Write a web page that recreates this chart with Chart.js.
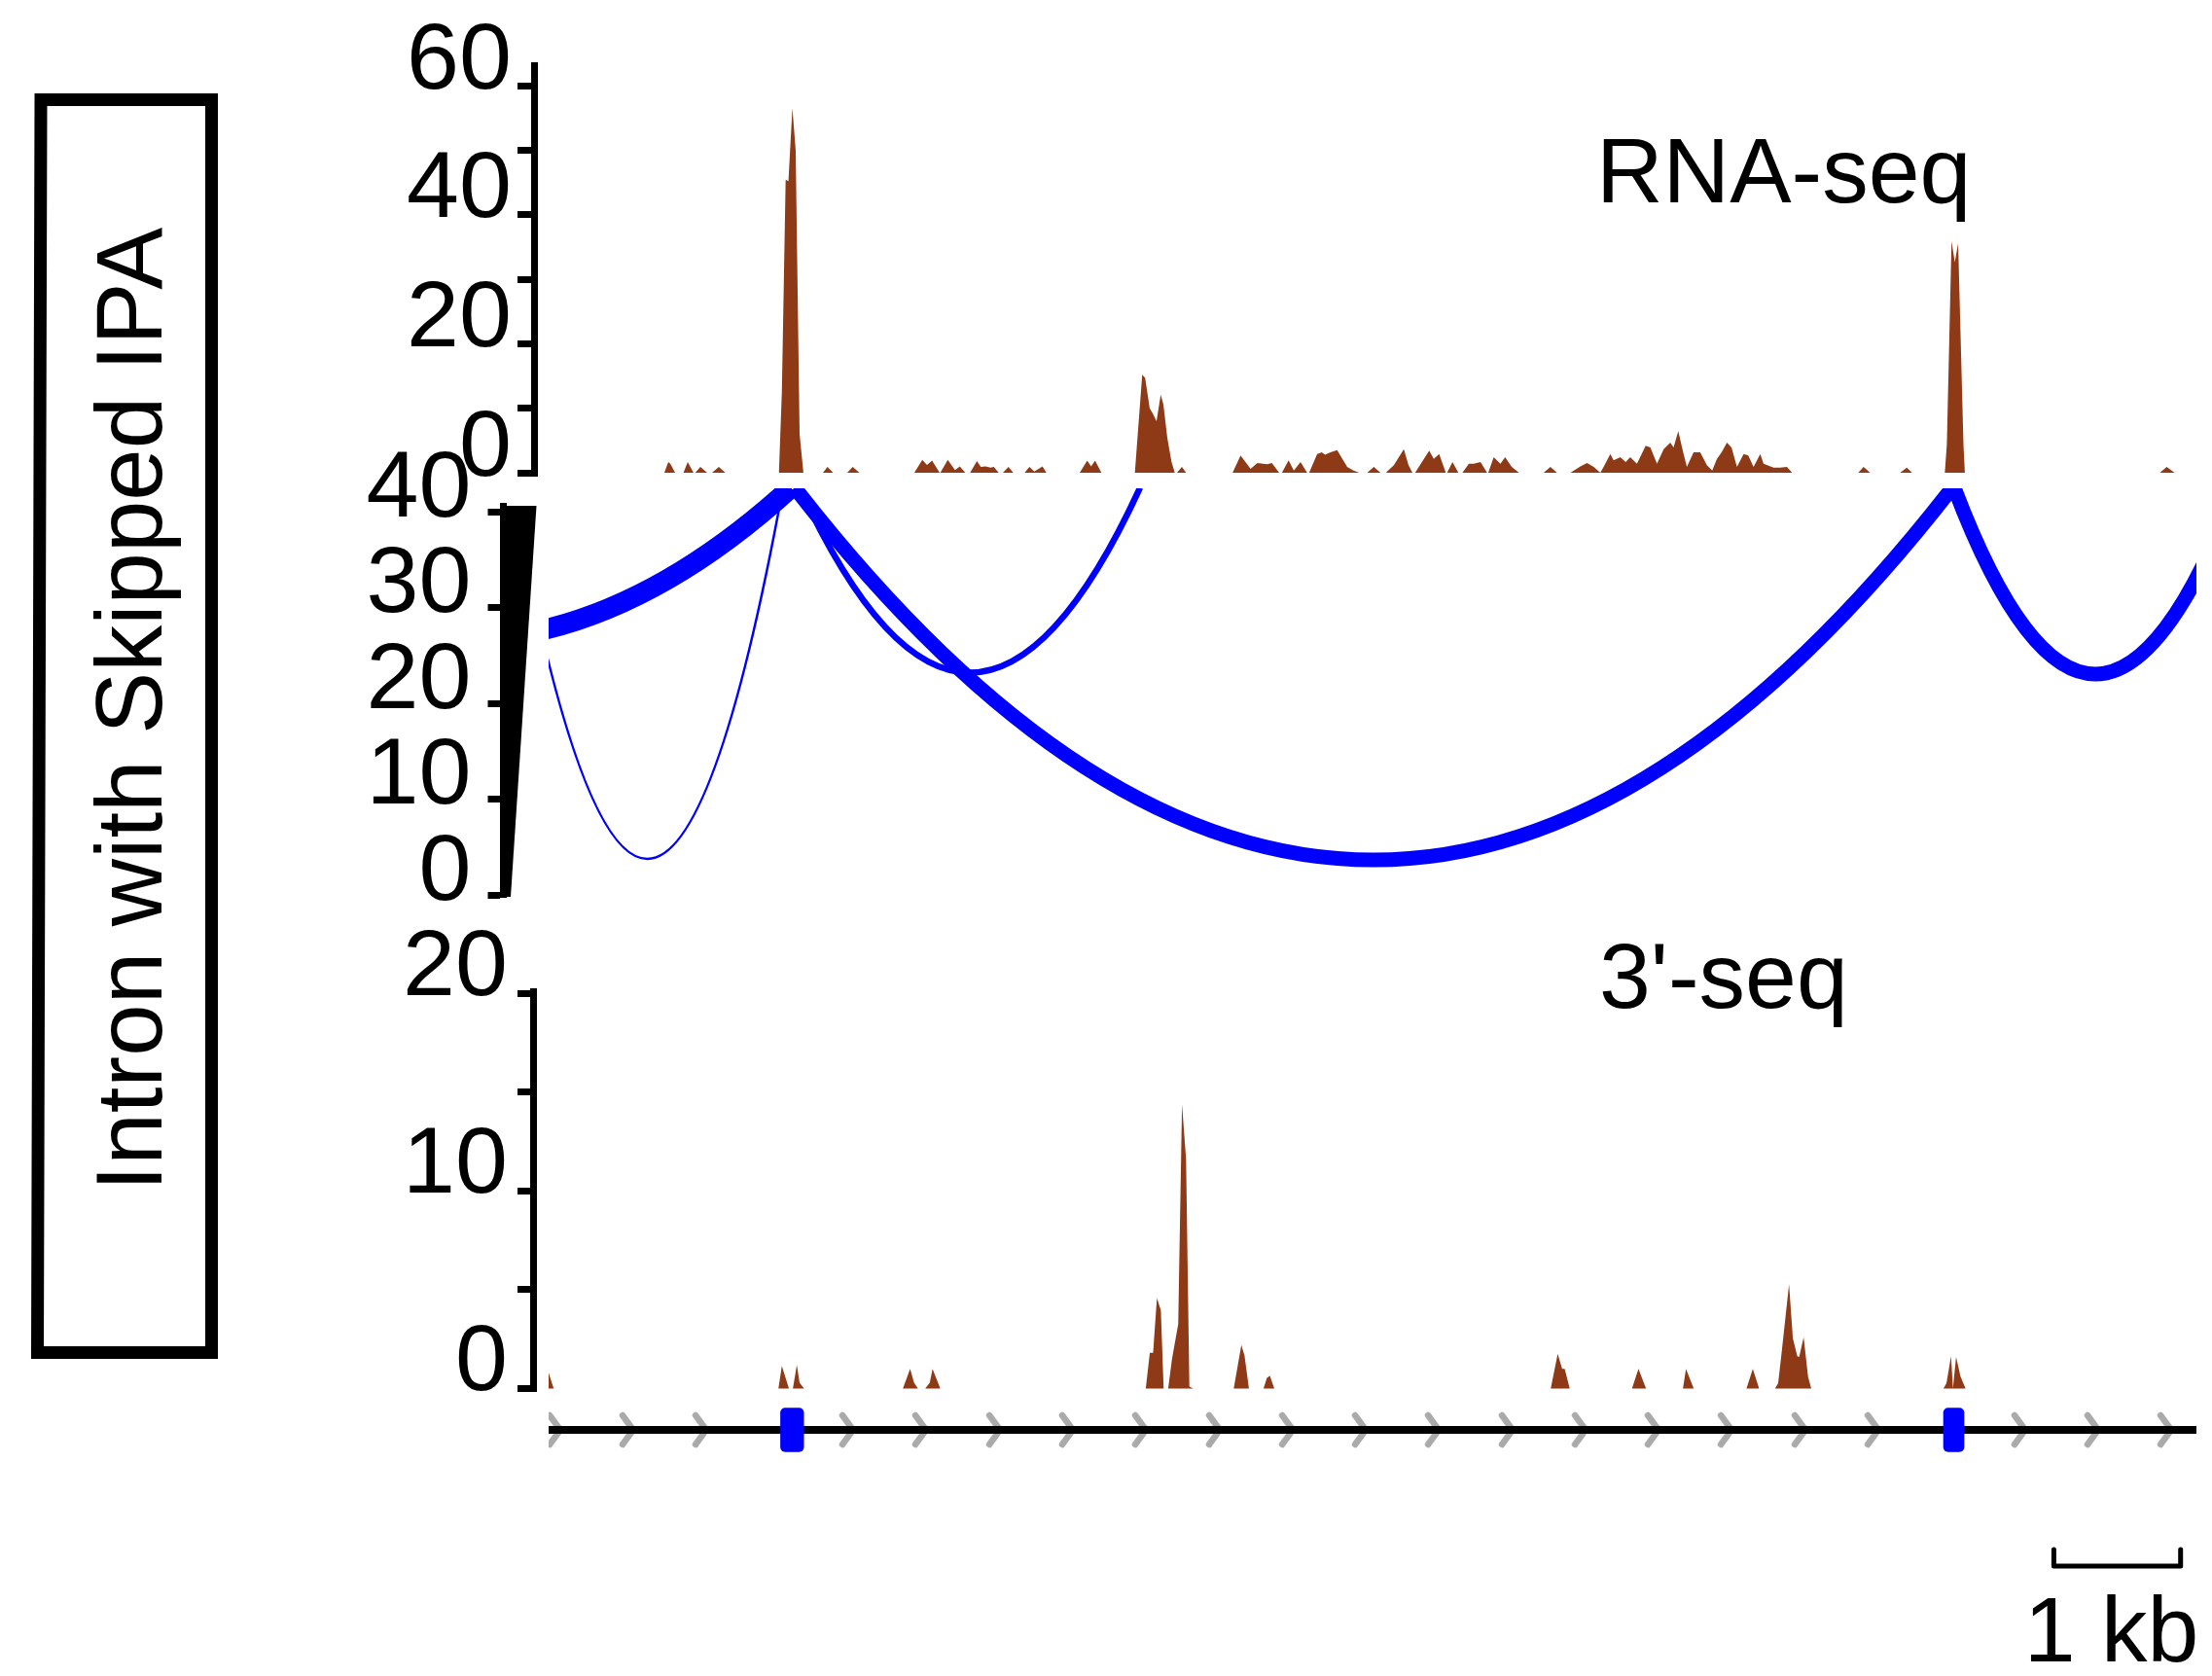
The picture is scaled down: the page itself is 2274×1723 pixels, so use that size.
<!DOCTYPE html>
<html>
<head>
<meta charset="utf-8">
<title>Intron with Skipped IPA</title>
<script src="https://cdn.jsdelivr.net/npm/chart.js@4.4.1/dist/chart.umd.min.js"></script>
<style>
  html, body { margin: 0; padding: 0; background: #fff; }
  #page { position: relative; width: 2274px; height: 1723px; overflow: hidden; background: #fff; }
  #page canvas { position: absolute; left: 0; top: 0; }
</style>
</head>
<body>
<div id="page">
  <canvas id="rnaTrack" width="2274" height="1723"></canvas>
  <canvas id="juncTrack" width="2274" height="1723"></canvas>
  <canvas id="polyaTrack" width="2274" height="1723"></canvas>
  <canvas id="geneTrack" width="2274" height="1723"></canvas>
</div>
<script>
// ---- region: 13 kb window ----
const REGION_BP = 13000;

// RNA-seq coverage (bp, read depth)
const rnaPos = [
  0,
  913, 944, 960, 998,
  1064, 1097, 1143,
  1157, 1197, 1251,
  1289, 1343, 1394,
  1817, 1840, 1870, 1892, 1923, 1949, 1980, 2010,
  2164, 2200, 2245,
  2356, 2399, 2452,
  2885, 2948, 2985, 3025, 3085,
  3090, 3149, 3206, 3244, 3287,
  3325, 3379, 3410, 3448, 3486, 3512, 3551,
  3584, 3628, 3666,
  3755, 3793, 3832, 3896, 3927,
  4190, 4249, 4280, 4311, 4361,
  4625, 4683, 4706, 4742, 4766, 4796, 4829, 4850, 4881, 4914, 4940,
  4957, 4996, 5029,
  5396, 5459, 5538, 5591, 5669, 5706, 5763,
  5785, 5838, 5879, 5932, 5984,
  6000, 6063, 6100, 6126, 6168, 6221, 6300, 6350, 6395,
  6458, 6510, 6563,
  6605, 6668, 6747, 6784, 6815,
  6836, 6947, 6983, 7026, 7078,
  7088, 7131, 7177,
  7209, 7260, 7298, 7352, 7404,
  7413, 7456, 7509, 7546, 7598, 7656,
  7850, 7903, 7956,
  8061, 8140, 8192, 8245, 8297,
  8323, 8376, 8402, 8455, 8497, 8533, 8586, 8655, 8692, 8744,
  8797, 8849, 8875, 8912, 8954, 8980, 9033, 9085, 9138, 9180,
  9217, 9254, 9296, 9332, 9375, 9428, 9464, 9506, 9559, 9585,
  9664, 9716, 9769, 9811,
  10332, 10374, 10426,
  10662, 10715, 10757,
  11015, 11031, 11068, 11094, 11120, 11162, 11173,
  12712, 12765, 12828,
  13000
];
const rnaCov = [
  0,
  0, 1.66, 1.4, 0,
  0, 1.66, 0,
  0, 0.9, 0,
  0, 0.9, 0,
  0, 12.5, 45.4, 45.2, 56.5, 50, 6, 0,
  0, 0.9, 0,
  0, 0.9, 0,
  0, 2.0, 1.2, 1.9, 0,
  0, 2.0, 0.4, 1.0, 0,
  0, 1.8, 0.9, 1.0, 0.8, 0.9, 0,
  0, 0.9, 0,
  0, 0.9, 0.2, 1.0, 0,
  0, 1.9, 1.0, 1.9, 0,
  0, 15.2, 14.7, 10, 9.2, 8.0, 12.1, 10.6, 5.4, 1.7, 0,
  0, 0.9, 0,
  0, 2.66, 0.6, 1.51, 1.31, 1.51, 0,
  0, 1.91, 0.35, 1.66, 0,
  0, 2.9, 3.17, 2.8, 3.17, 3.52, 0.9, 0.35, 0,
  0, 0.9, 0,
  0, 1.16, 3.67, 1.16, 0,
  0, 3.42, 2.16, 2.9, 0,
  0, 1.66, 0,
  0, 1.4, 1.41, 1.66, 0,
  0, 2.41, 1.41, 2.41, 0.9, 0,
  0, 0.9, 0,
  0, 1.0, 1.51, 0.9, 0,
  0.9, 2.9, 1.91, 2.41, 1.66, 2.41, 1.41, 4.17, 3.92, 1.41,
  3.67, 4.68, 3.92, 6.43, 2.9, 0.9, 3.17, 3.17, 1.16, 0.35,
  2.16, 3.17, 4.68, 3.92, 0.9, 2.9, 2.66, 0.9, 2.9, 1.41,
  0.8, 0.8, 0.9, 0,
  0, 0.9, 0,
  0, 0.8, 0,
  0, 4.4, 35.9, 32.6, 35.6, 4.4, 0,
  0, 0.9, 0,
  0
];

// 3'-seq coverage (bp, read depth)
const polyaPos = [
  0, 40,
  1813, 1840, 1896,
  1927, 1958, 1980, 2015,
  2795, 2852, 2883, 2914,
  2971, 3007, 3029, 3090,
  4711, 4743, 4769, 4799, 4830, 4852, 4888, 4918, 4967, 4997, 5029, 5055, 5086,
  5405, 5465, 5490, 5525,
  5640, 5666, 5690, 5725,
  7906, 7961, 7996, 8016, 8056,
  8547, 8598, 8658,
  8949, 8973, 9034,
  9450, 9500, 9550,
  9675, 9700, 9725, 9786, 9816, 9851, 9866, 9901, 9936, 9961,
  11004, 11028, 11064, 11079, 11104, 11139, 11179,
  13000
];
const polyaCov = [
  0.8, 0,
  0, 1.14, 0,
  0, 1.2, 0.3, 0,
  0, 1.0, 0.3, 0,
  0, 0.3, 1.0, 0,
  0, 1.81, 1.81, 4.58, 3.96, 0, 0, 1.5, 3.26, 14.4, 11.6, 0.1, 0,
  0, 2.2, 1.67, 0,
  0, 0.53, 0.65, 0,
  0, 1.76, 1.0, 1.0, 0,
  0, 1.0, 0,
  0, 1.0, 0,
  0, 1.0, 0,
  0, 0.27, 1.67, 5.28, 2.55, 1.64, 1.6, 2.6, 0.6, 0,
  0, 0.27, 1.64, 0, 1.6, 0.6, 0,
  0
];

// splice junctions: donor/acceptor (bp) and lowest point of each arc
const juncStart = [-292, 1980, -3384, 1942, 11089];
const juncEnd   = [1849, 4666, 1911, 11074, 13315];
const juncDepth = [3.76, 23.2, 26.57, 3.65, 23.05];
const ARC_TOP = 42.5;

// gene model
const exonStart = [1830, 11005];
const exonEnd   = [2012, 11166];
const strandMarks = [54, 629, 1205, 2364, 2939, 3523, 4098, 4674, 5257, 5833,
  6408, 6984, 7567, 8143, 8718, 9294, 9877, 10453, 11611, 12187, 12763];
const scaleBar = [11875, 12875];

// axis ticks
const rnaTicks = [0, 10, 20, 30, 40, 50, 60];
const rnaLabelled = [0, 20, 40, 60];
const juncTicks = [0, 10, 20, 30, 40];
const polyaTicks = [0, 5, 10, 15, 20];
const polyaLabelled = [0, 10, 20];

// ---- layout ----
const PAGE_W = 2274, PAGE_H = 1723;
const TRACK_LEFT = 564, TRACK_RIGHT = 2258;
const BP_PER_PX = REGION_BP / (TRACK_RIGHT - TRACK_LEFT);
const FONT = "'Liberation Sans', Arial, Helvetica, sans-serif";
const BROWN = '#8e3a17';
const BLUE = '#0000ff';
const AXIS_W = 7;
const arcWidths = [2.5, 6.5, 21, 15, 15];

Chart.defaults.font.family = FONT;

function xAxis(axisX) {
  // the x scale starts at the y axis, so bp 0 lands on TRACK_LEFT
  return { type: 'linear', display: false, min: -(TRACK_LEFT - axisX) * BP_PER_PX, max: REGION_BP };
}

function yAxis(o) {
  return {
    type: 'linear', min: o.min, max: o.max,
    afterFit: s => { s.width = o.axisX; },
    afterBuildTicks: s => { s.ticks = o.ticks.map(v => ({ value: v })); },
    grid: { drawOnChartArea: false, drawTicks: true, tickLength: o.tickLength, tickWidth: AXIS_W, tickColor: '#000', color: '#000' },
    border: { display: true, width: AXIS_W, color: '#000' },
    ticks: {
      autoSkip: false, padding: o.padding, labelOffset: o.labelOffset,
      color: '#000', font: { family: FONT, size: 97 },
      callback: v => (o.labelled.includes(v) ? String(v) : '')
    }
  };
}

function baseOptions(padding) {
  return {
    responsive: false, animation: false, events: [], devicePixelRatio: 1,
    layout: { padding },
    plugins: { legend: { display: false }, tooltip: { enabled: false } }
  };
}

function coverage(pos, cov) {
  return {
    data: pos.map((x, i) => ({ x, y: cov[i] })),
    fill: 'origin', backgroundColor: BROWN,
    borderColor: 'rgba(0,0,0,0)', borderWidth: 0,
    pointRadius: 0, tension: 0
  };
}

const trackTitle = {
  id: 'trackTitle',
  afterDraw(chart, args, opts) {
    const ctx = chart.ctx;
    ctx.save();
    ctx.fillStyle = '#000';
    ctx.font = '95px ' + FONT;
    ctx.textAlign = 'left';
    ctx.textBaseline = 'alphabetic';
    ctx.fillText(opts.text, opts.x, opts.y);
    ctx.restore();
  }
};

// RNA-seq track
const rnaOpts = baseOptions({ left: 0, right: PAGE_W - TRACK_RIGHT, top: 67, bottom: PAGE_H - 489 });
rnaOpts.scales = {
  x: xAxis(549),
  y: yAxis({ axisX: 549, min: -0.45, max: 63.17, ticks: rnaTicks, labelled: rnaLabelled,
             tickLength: 17, padding: 6, labelOffset: -24 })
};
rnaOpts.plugins.trackTitle = { text: 'RNA-seq', x: 1641, y: 208 };
new Chart(document.getElementById('rnaTrack'), {
  type: 'line',
  data: { datasets: [coverage(rnaPos, rnaCov)] },
  options: rnaOpts,
  plugins: [trackTitle]
});

// junction track: parabolic arcs hanging from the exon ends
const junctionArcs = {
  id: 'junctionArcs',
  afterDatasetsDraw(chart) {
    const { ctx, scales: { x, y } } = chart;
    const yTop = y.getPixelForValue(ARC_TOP);
    const left = x.getPixelForValue(0);
    const right = x.getPixelForValue(REGION_BP);
    ctx.save();
    ctx.beginPath();
    ctx.rect(left, Math.round(yTop + 0.5), right - left, PAGE_H);
    ctx.clip();
    ctx.strokeStyle = BLUE;
    ctx.lineCap = 'butt';
    juncStart.forEach((s, i) => {
      const x0 = x.getPixelForValue(s);
      const x1 = x.getPixelForValue(juncEnd[i]);
      const yLow = y.getPixelForValue(juncDepth[i]);
      ctx.beginPath();
      ctx.moveTo(x0, yTop);
      ctx.quadraticCurveTo((x0 + x1) / 2, 2 * yLow - yTop, x1, yTop);
      ctx.lineWidth = arcWidths[i];
      ctx.stroke();
    });
    ctx.restore();
  },
  afterDraw(chart) {
    // tapered spine of the junction axis
    const { ctx, chartArea: { left, top, bottom } } = chart;
    ctx.save();
    ctx.fillStyle = '#000';
    ctx.beginPath();
    ctx.moveTo(left - AXIS_W / 2, top);
    ctx.lineTo(left + 34, top);
    ctx.lineTo(left + 7.5, bottom);
    ctx.lineTo(left - AXIS_W / 2, bottom);
    ctx.closePath();
    ctx.fill();
    ctx.restore();
  }
};
const juncOpts = baseOptions({ left: 0, right: PAGE_W - TRACK_RIGHT, top: 520, bottom: PAGE_H - 922 });
juncOpts.scales = {
  x: xAxis(517.5),
  y: yAxis({ axisX: 517.5, min: -0.2, max: 40.61, ticks: juncTicks, labelled: juncTicks,
             tickLength: 16, padding: 17, labelOffset: -22 })
};
new Chart(document.getElementById('juncTrack'), {
  type: 'line',
  data: { datasets: [] },
  options: juncOpts,
  plugins: [junctionArcs]
});

// 3'-seq track
const polyaOpts = baseOptions({ left: 0, right: PAGE_W - TRACK_RIGHT, top: 1019, bottom: PAGE_H - 1430 });
polyaOpts.scales = {
  x: xAxis(548.5),
  y: yAxis({ axisX: 548.5, min: -0.123, max: 20.12, ticks: polyaTicks, labelled: polyaLabelled,
             tickLength: 16.5, padding: 10, labelOffset: -25 })
};
polyaOpts.plugins.trackTitle = { text: "3'-seq", x: 1644, y: 1036 };
new Chart(document.getElementById('polyaTrack'), {
  type: 'line',
  data: { datasets: [coverage(polyaPos, polyaCov)] },
  options: polyaOpts,
  plugins: [trackTitle]
});

// gene model track, scale bar and side label
function chevron() {
  const c = document.createElement('canvas');
  c.width = 26; c.height = 40;
  const g = c.getContext('2d');
  g.strokeStyle = '#aaaaaa';
  g.lineWidth = 6.5;
  g.lineCap = 'round';
  g.beginPath();
  g.moveTo(7, 5);
  g.lineTo(18, 20);
  g.lineTo(7, 35);
  g.stroke();
  return c;
}

const pageDecor = {
  id: 'pageDecor',
  afterDraw(chart) {
    const { ctx, chartArea, scales: { x } } = chart;
    ctx.save();

    // 1 kb scale bar
    const bx0 = x.getPixelForValue(scaleBar[0]);
    const bx1 = x.getPixelForValue(scaleBar[1]);
    const by = chartArea.bottom + 110;
    ctx.strokeStyle = '#000';
    ctx.lineWidth = 5;
    ctx.lineCap = 'round';
    ctx.lineJoin = 'round';
    ctx.beginPath();
    ctx.moveTo(bx0, by - 17);
    ctx.lineTo(bx0, by);
    ctx.lineTo(bx1, by);
    ctx.lineTo(bx1, by - 17);
    ctx.stroke();
    ctx.fillStyle = '#000';
    ctx.font = '95px ' + FONT;
    ctx.textAlign = 'center';
    ctx.textBaseline = 'alphabetic';
    ctx.fillText('1 kb', (bx0 + bx1) / 2 - 6, chartArea.bottom + 208);

    // boxed side label
    ctx.lineWidth = 13;
    ctx.lineJoin = 'miter';
    ctx.lineCap = 'butt';
    ctx.beginPath();
    ctx.moveTo(42, 102.5);
    ctx.lineTo(217.5, 102.5);
    ctx.lineTo(217.5, 1390.5);
    ctx.lineTo(38.5, 1390.5);
    ctx.closePath();
    ctx.stroke();
    ctx.translate(166, 729);
    ctx.rotate(-Math.PI / 2);
    ctx.font = '96px ' + FONT;
    ctx.fillText('Intron with Skipped IPA', 0, 0);
    ctx.restore();
  }
};

const geneOpts = baseOptions({ left: TRACK_LEFT, right: PAGE_W - TRACK_RIGHT, top: 1440, bottom: PAGE_H - 1500 });
geneOpts.scales = {
  x: { type: 'linear', display: false, min: 0, max: REGION_BP },
  y: { type: 'linear', display: false, min: 0, max: 1 }
};
new Chart(document.getElementById('geneTrack'), {
  type: 'line',
  data: {
    datasets: [
      {
        type: 'bar', indexAxis: 'y', order: 0,
        data: exonStart.map((s, i) => ({ x: [s, exonEnd[i]], y: 0.5 })),
        backgroundColor: BLUE, barThickness: 45, borderRadius: 5, borderSkipped: false
      },
      {
        type: 'line', order: 1,
        data: [{ x: 0, y: 0.5 }, { x: REGION_BP, y: 0.5 }],
        borderColor: '#000', borderWidth: 8, pointRadius: 0
      },
      {
        type: 'line', order: 2, showLine: false, clip: 0,
        data: strandMarks.map(x => ({ x, y: 0.5 })),
        pointStyle: chevron(), pointRadius: 8
      }
    ]
  },
  options: geneOpts,
  plugins: [pageDecor]
});
</script>
</body>
</html>
